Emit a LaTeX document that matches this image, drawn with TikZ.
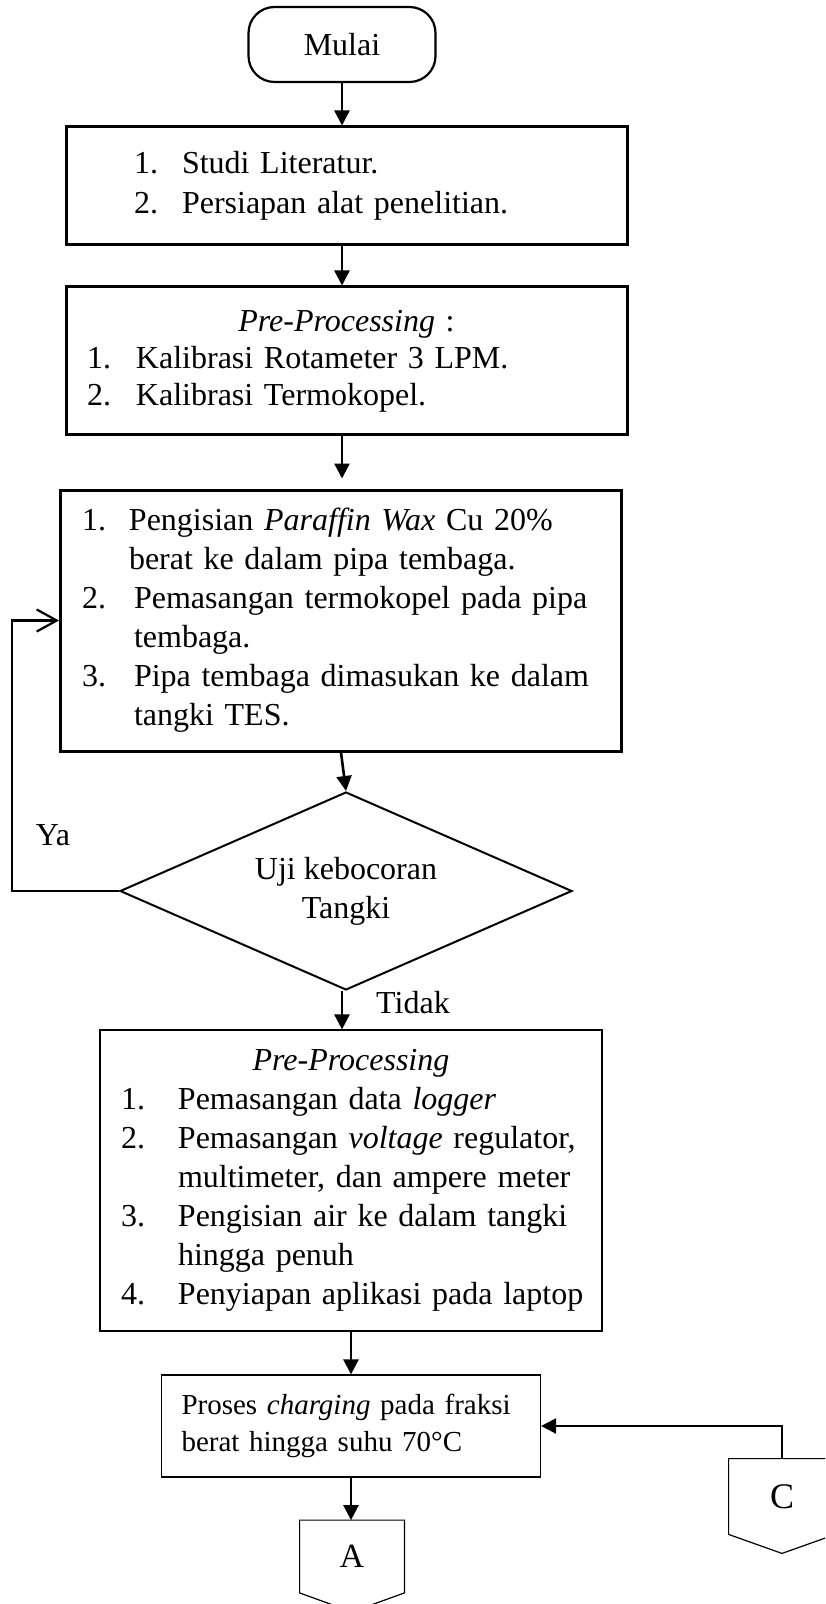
\documentclass[tikz,border=0pt]{standalone}
\usepackage{fontspec}
\setmainfont{Liberation Serif}
\usetikzlibrary{arrows.meta,shapes.geometric}

% numbered line: [number column width]{number}{text}
\newcommand\itm[3][24pt]{\mbox{\makebox[#1][l]{#2}#3}}

\begin{document}
\begin{tikzpicture}[x=0.5pt, y=-0.5pt,
  txt/.style={font=\fontsize{16}{19.5}\selectfont},
  thickbox/.style={draw, line width=1.5pt, inner ysep=0pt, align=left, txt},
  thinbox/.style={draw, line width=0.6pt, inner ysep=0pt, align=left, txt},
  arr/.style={line width=1.3pt, -{Triangle[length=7.5pt,width=7.5pt]}},
  conn/.style={minimum width=52pt, minimum height=36pt, inner sep=0pt,
    font=\fontsize{17}{20}\selectfont}]
  \clip (0,0) rectangle (825,1604);

  \node[draw, line width=1.1pt, rounded corners=13pt, minimum width=93.5pt,
    minimum height=37.5pt, txt] (mulai) at (342,44.5) {Mulai};
  \node[thickbox, minimum width=280.5pt, minimum height=59pt, inner xsep=34pt,
    text width=212.5pt, font=\fontsize{16}{20}\selectfont] (studi) at (346.5,186)
    {\itm{1.}{Studi Literatur.}\\ \itm{2.}{Persiapan alat penelitian.}};
  \node[thickbox, minimum width=280.5pt, minimum height=74pt, inner xsep=10.5pt,
    text width=259.5pt, font=\fontsize{16}{18.5}\selectfont] (kalib) at (346.5,361)
    {\makebox[\linewidth]{\textit{Pre-Processing} :}\\
     \itm[24.5pt]{1.}{Kalibrasi Rotameter 3 LPM.}\\
     \itm[24.5pt]{2.}{Kalibrasi Termokopel.}};
  \node[thickbox, minimum width=280.5pt, minimum height=130.5pt, inner xsep=10.75pt,
    text width=259pt] (wax) at (341,620.5)
    {\itm[23.5pt]{1.}{Pengisian \textit{Paraffin Wax} Cu 20\%}\\
     \itm[23.5pt]{}{berat ke dalam pipa tembaga.}\\
     \itm[26pt]{2.}{Pemasangan termokopel pada pipa}\\
     \itm[26pt]{}{tembaga.}\\
     \itm[26pt]{3.}{Pipa tembaga dimasukan ke dalam}\\
     \itm[26pt]{}{tangki TES.}};
  \node[diamond, draw, line width=1pt, shape aspect=2.28, minimum width=226pt,
    minimum height=99pt, inner sep=0pt, align=center, txt] (bocor) at (346,891)
    {Uji kebocoran\\Tangki};
  \node[thinbox, minimum width=251pt, minimum height=150.5pt, inner xsep=10.5pt,
    text width=230pt] (logger) at (351,1180.5)
    {\makebox[\linewidth]{\textit{Pre-Processing}}\\
     \itm[28.5pt]{1.}{Pemasangan data \textit{logger}}\\
     \itm[28.5pt]{2.}{Pemasangan \textit{voltage} regulator,}\\
     \itm[28.5pt]{}{multimeter, dan ampere meter}\\
     \itm[28.5pt]{3.}{Pengisian air ke dalam tangki}\\
     \itm[28.5pt]{}{hingga penuh}\\
     \itm[28.5pt]{4.}{Penyiapan aplikasi pada laptop}};
  \node[thinbox, minimum width=189.5pt, minimum height=51pt, inner xsep=10pt,
    text width=169.5pt, font=\fontsize{14.5}{18.5}\selectfont] (charging) at (351,1426)
    {Proses \textit{charging} pada fraksi\\ berat hingga suhu 70°C};
  \node[conn] (A) at (352,1556.5) {A};
  \node[conn, minimum width=53pt, minimum height=37.5pt,
    font=\fontsize{18}{20}\selectfont] (C) at (782,1496.5) {C};
  \foreach \n in {A,C}
    \draw[line width=0.6pt] (\n.north west) -- (\n.north east) -- (\n.south east)
      -- ([yshift=-9.5pt]\n.south) -- (\n.south west) -- cycle;

  \node[txt] (tidak) at (413,1003) {Tidak};
  \node[txt] (ya) at (53,835) {Ya};
  \coordinate (back) at (12,0);

  \draw[arr] (mulai) -- (mulai |- studi.north);
  \draw[arr] (studi.south -| mulai) -- (mulai |- kalib.north);
  \draw[arr, shorten >=5pt] (kalib.south -| mulai) -- (mulai |- wax.north);
  \draw[arr] (wax.south) -- (bocor.north);
  \draw[line width=1.1pt, -{Straight Barb[length=10pt,width=11pt]}]
    (bocor.west) -- (bocor.west -| back) |- (wax.west);
  \draw[arr] (bocor.south -| mulai) -- (mulai |- logger.north);
  \draw[arr] (logger.south) -- (logger.south |- charging.north);
  \draw[arr] (charging.south) -- (charging.south |- A.north);
  \draw[arr, line width=1.2pt] (C.north) |- (charging.east);
\end{tikzpicture}
\end{document}
